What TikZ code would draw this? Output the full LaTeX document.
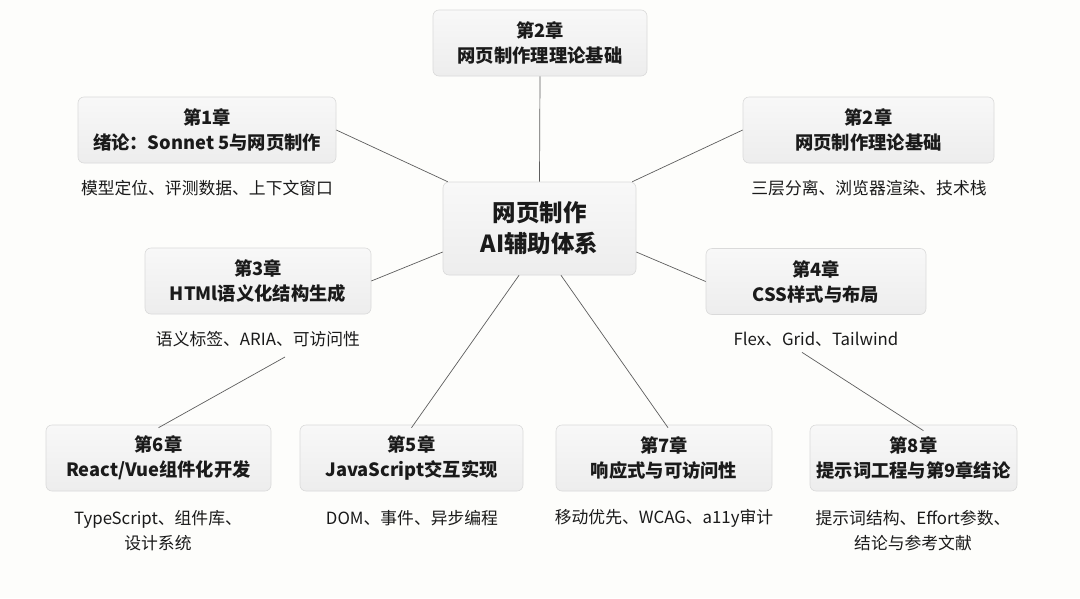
\documentclass[tikz,border=0pt]{standalone}
\usepackage{fontspec}
\setmainfont{Noto Sans CJK SC}
\definecolor{bgcol}{HTML}{FDFDFB}
\definecolor{boxtop}{HTML}{F8F8F8}
\definecolor{boxbot}{HTML}{EDEDED}
\definecolor{boxline}{HTML}{DADADA}
\definecolor{linkcol}{HTML}{5E5E5E}
\definecolor{txtcol}{HTML}{1A1A1A}
\begin{document}
\begin{tikzpicture}[x=1pt,y=-1pt,
  chapbox/.style={draw=boxline, line width=0.6pt, top color=boxtop, bottom color=boxbot,
    rounded corners=6pt, minimum height=66pt, align=center, inner sep=0pt,
    font=\fontsize{18.3}{25}\selectfont\bfseries, text=txtcol},
  hubbox/.style={chapbox, minimum height=93pt, font=\fontsize{23.5}{31}\selectfont\bfseries},
  subtxt/.style={align=center, inner sep=0pt, font=\fontsize{16.8}{25}\selectfont, text=txtcol},
  link/.style={draw=linkcol, line width=0.7pt}]
\fill[bgcol] (0,0) rectangle (1080,598);
\useasboundingbox (0,0) rectangle (1080,598);

\node[hubbox, minimum width=193pt] (hub) at (539.5,228.5) {网页制作\\AI辅助体系};

\node[chapbox, minimum width=214pt] (top) at (540,43) {第2章\\网页制作理理论基础};
\node[chapbox, minimum width=258pt] (c1) at (207,130) {第1章\\绪论：Sonnet 5与网页制作};
\node[chapbox, minimum width=251pt] (c2) at (868.5,130) {第2章\\网页制作理论基础};
\node[chapbox, minimum width=226pt] (c3) at (258,281) {第3章\\HTMl语义化结构生成};
\node[chapbox, minimum width=220pt] (c4) at (816,281.5) {第4章\\CSS样式与布局};
\node[chapbox, minimum width=225pt] (c6) at (158.5,458) {第6章\\React/Vue组件化开发};
\node[chapbox, minimum width=223pt] (c5) at (411.5,458) {第5章\\JavaScript交互实现};
\node[chapbox, minimum width=216pt] (c7) at (664,458) {第7章\\响应式与可访问性};
\node[chapbox, minimum width=207pt] (c8) at (913.5,458) {第8章\\提示词工程与第9章结论};

\node[subtxt] (s1) at (207,188) {模型定位、评测数据、上下文窗口};
\node[subtxt] (s2) at (869,188) {三层分离、浏览器渲染、技术栈};
\node[subtxt] (s3) at (258,339) {语义标签、ARIA、可访问性};
\node[subtxt] (s4) at (816,339) {Flex、Grid、Tailwind};
\node[subtxt] (s6) at (158,530.5) {TypeScript、组件库、\\设计系统};
\node[subtxt] (s5) at (412,518) {DOM、事件、异步编程};
\node[subtxt] (s7) at (664,518) {移动优先、WCAG、a11y审计};
\node[subtxt] (s8) at (913,530.5) {提示词结构、Effort参数、\\结论与参考文献};

\draw[link] (top.south) -- (hub.north);
\draw[link] (c1.east) -- ([xshift=5pt]hub.north west);
\draw[link] (c2.west) -- ([xshift=-4pt]hub.north east);
\draw[link] (c3.east) -- ([yshift=-23.5pt]hub.west);
\draw[link] (c4.west) -- ([yshift=-23.5pt]hub.east);
\draw[link] ([xshift=-20.5pt]hub.south) -- ([yshift=-3pt]c5.north);
\draw[link] ([xshift=21.5pt]hub.south) -- ([xshift=4pt,yshift=-3pt]c7.north);
\draw[link] ([xshift=27pt,yshift=-10pt]s3.south) -- ([yshift=-3pt]c6.north);
\draw[link] ([xshift=-14pt,yshift=-6pt]s4.south) -- ([xshift=10pt,yshift=-6pt]c8.north);
\end{tikzpicture}
\end{document}
